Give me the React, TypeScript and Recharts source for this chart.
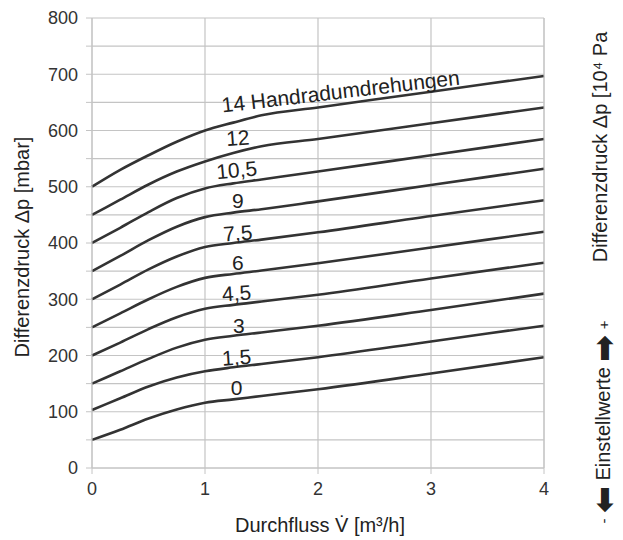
import { LineChart, Line, XAxis, YAxis, CartesianGrid, ReferenceDot } from 'recharts';

const flow = [0, 0.25, 0.5, 0.75, 1, 1.25, 1.5, 2, 3, 4];

// Differenzdruck in mbar je Einstellwert (Handradumdrehungen)
const setting0 = [50, 68, 88, 104, 116, 122, 128, 140, 168, 197];
const setting15 = [103, 124, 145, 161, 172, 179, 185, 197, 225, 253];
const setting3 = [150, 172, 194, 214, 228, 235, 241, 253, 281, 310];
const setting45 = [200, 223, 247, 268, 283, 290, 296, 308, 337, 365];
const setting6 = [250, 275, 300, 322, 338, 345, 351, 364, 392, 420];
const setting75 = [300, 326, 353, 376, 393, 400, 406, 419, 448, 476];
const setting9 = [350, 377, 405, 429, 446, 454, 460, 474, 503, 532];
const setting105 = [400, 427, 455, 480, 497, 506, 513, 527, 556, 585];
const setting12 = [450, 477, 504, 527, 545, 560, 572, 585, 613, 641];
const setting14 = [500, 530, 556, 580, 600, 614, 627, 641, 669, 697];

const seriesKeys = ['s0', 's15', 's3', 's45', 's6', 's75', 's9', 's105', 's12', 's14'];
const seriesValues = [setting0, setting15, setting3, setting45, setting6, setting75, setting9, setting105, setting12, setting14];

const curveLabels = ['0', '1,5', '3', '4,5', '6', '7,5', '9', '10,5', '12', '14 Handradumdrehungen'];
const labelX = [1.28, 1.28, 1.3, 1.28, 1.29, 1.29, 1.29, 1.28, 1.29, 2.2];
const labelY = [144, 197, 254, 311, 366, 418, 476, 530, 587, 670];
const labelAngle = [0, -4, 0, -4, 0, -4, 0, -5, -4, -6.7];

const xTicks = [0, 1, 2, 3, 4];
const leftTicks = [0, 50, 100, 150, 200, 250, 300, 350, 400, 450, 500, 550, 600, 650, 700, 750, 800];
const rightTicks = [0, 0.5, 1, 1.5, 2, 2.5, 3, 3.5, 4, 4.5, 5, 5.5, 6, 6.5, 7, 7.5, 8];

const data = flow.map((x, i) => {
  const row: Record<string, number> = { x };
  seriesKeys.forEach((k, j) => {
    row[k] = seriesValues[j][i];
  });
  return row;
});

const FONT = '"Liberation Sans", Arial, sans-serif';
const GRID = '#c4c4c4';

export default function App() {
  return (
    <div style={{ position: 'relative', width: 623, height: 540, fontFamily: FONT }}>
      <style>{'body{margin:0}'}</style>
      <LineChart width={623} height={540} data={data} margin={{ top: 18, right: 0, bottom: 0, left: 0 }}>
        <CartesianGrid yAxisId="l" stroke={GRID} strokeWidth={1.2} />
        <XAxis
          dataKey="x"
          type="number"
          domain={[0, 4]}
          ticks={xTicks}
          height={72}
          tickSize={6}
          tickMargin={8}
          stroke={GRID}
          tick={{ fill: '#333', fontSize: 18, fontFamily: FONT }}
        />
        <YAxis
          yAxisId="l"
          domain={[0, 800]}
          ticks={leftTicks}
          interval={0}
          width={92}
          tickSize={6}
          tickMargin={8}
          stroke={GRID}
          tickFormatter={(v: number) => (v % 100 === 0 ? String(v) : '')}
          tick={{ fill: '#333', fontSize: 18, fontFamily: FONT }}
        />
        <YAxis
          yAxisId="r"
          orientation="right"
          domain={[0, 8]}
          ticks={rightTicks}
          interval={0}
          width={79}
          tickSize={6}
          tickMargin={8}
          stroke={GRID}
          tickFormatter={(v: number) => (v % 1 === 0 ? String(v) : '')}
          tick={{ fill: '#333', fontSize: 18, fontFamily: FONT }}
        />
        {seriesKeys.map((k) => (
          <Line
            key={k}
            yAxisId="l"
            dataKey={k}
            type="monotone"
            stroke="#333"
            strokeWidth={2.6}
            dot={false}
            activeDot={false}
            isAnimationActive={false}
          />
        ))}
        {curveLabels.map((t, i) => (
          <ReferenceDot
            key={t}
            yAxisId="l"
            x={labelX[i]}
            y={labelY[i]}
            r={0}
            shape={(p: any) => (
              <text
                x={p.cx}
                y={p.cy}
                textAnchor="middle"
                dominantBaseline="central"
                fontSize={21}
                fontFamily={FONT}
                fill="#222"
                transform={`rotate(${labelAngle[i]} ${p.cx} ${p.cy})`}
              >
                {t}
              </text>
            )}
          />
        ))}
      </LineChart>
      <svg width={623} height={540} style={{ position: 'absolute', left: 0, top: 0, pointerEvents: 'none' }}>
        <text x={22} y={247} transform="rotate(-90 22 247)" textAnchor="middle" dominantBaseline="central" fontSize={20} fontFamily={FONT} fill="#222">
          Differenzdruck Δp [mbar]
        </text>
        <text x={600} y={147} transform="rotate(-90 600 147)" textAnchor="middle" dominantBaseline="central" fontSize={20} fontFamily={FONT} fill="#222">
          Differenzdruck Δp [10⁴ Pa
        </text>
        <text x={603} y={422} transform="rotate(-90 603 422)" textAnchor="middle" dominantBaseline="central" fontSize={20} fontFamily={FONT} fill="#222">
          <tspan fontSize={15}>-</tspan>
          {' '}
          <tspan fontWeight="bold" fontSize={32} fontFamily="DejaVu Sans" dy={1}>⬅</tspan>
          <tspan dy={-1}>{' Einstellwerte '}</tspan>
          <tspan fontWeight="bold" fontSize={32} fontFamily="DejaVu Sans" dy={1}>➡</tspan>
          <tspan dy={-1}>{' '}</tspan>
          <tspan fontSize={15}>+</tspan>
        </text>
        <text x={320} y={525} textAnchor="middle" dominantBaseline="central" fontSize={20} fontFamily={FONT} fill="#222">
          Durchfluss V̇ [m³/h]
        </text>
      </svg>
    </div>
  );
}
